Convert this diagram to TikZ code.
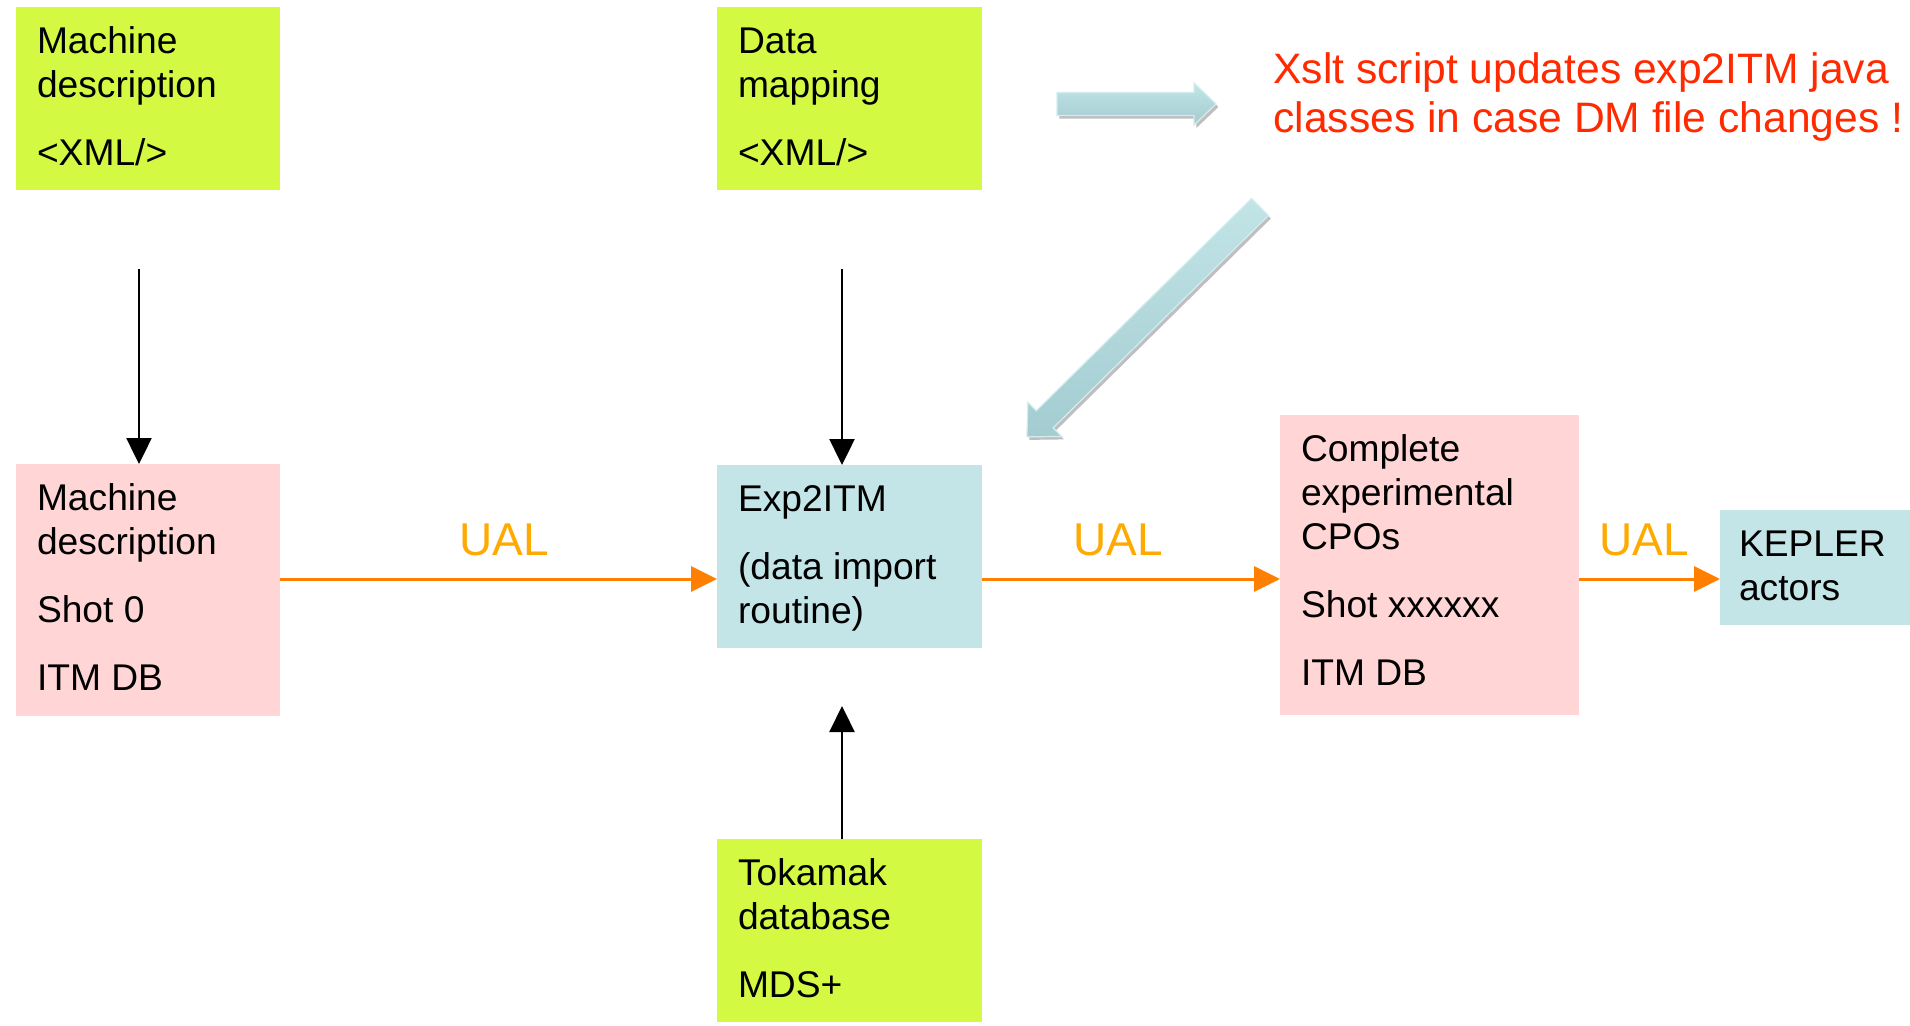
\documentclass[tikz,border=0pt]{standalone}
\usepackage{fontspec}
\setmainfont{Liberation Sans}
\usetikzlibrary{arrows.meta,shadows}

\definecolor{limebox}{HTML}{D4F943}
\definecolor{pinkbox}{HTML}{FFD6D5}
\definecolor{bluebox}{HTML}{C4E5E8}
\definecolor{flowline}{HTML}{FF8000}
\definecolor{uallabel}{HTML}{FFAA00}
\definecolor{notered}{HTML}{FF2A00}
\definecolor{hintlight}{HTML}{C2E4E7}
\definecolor{hintdark}{HTML}{A3CCD1}
\definecolor{hintedge}{HTML}{D3ECEE}

% text block of a panel: fixed height, top aligned, first baseline 23pt below the top
\newcommand\panellines[3]{%
  \parbox[c][#1][t]{#2}{\raggedright\fontsize{18.6}{22}\selectfont
    \vspace*{9.5pt}\rule{0pt}{13.5pt}#3}}

% light-blue block arrow: tail x, tail y, angle, length, shaft half width, head half width, head length
\newcommand\hintarrow[7]{%
  \begin{scope}[shift={(#1,#2)}, rotate=#3]
    \path[hintshape] (0,#5) -- ({#4-#7},#5) -- ({#4-#7},#6) -- (#4,0)
      -- ({#4-#7},-#6) -- ({#4-#7},-#5) -- (0,-#5) -- cycle;
  \end{scope}}

\tikzset{
  panel/.style={anchor=north west, inner xsep=10.5pt, inner ysep=0pt, outer sep=0pt},
  limepanel/.style={panel, fill=limebox},
  pinkpanel/.style={panel, fill=pinkbox},
  bluepanel/.style={panel, fill=bluebox},
  feed/.style={line width=1.2pt, -{Triangle[width=12.5pt,length=13pt]}},
  flow/.style={draw=flowline, line width=1.5pt, -{Triangle[width=12.5pt,length=13pt]}},
  ual/.style={text=uallabel, font=\fontsize{23}{27}\selectfont, inner sep=0pt, anchor=base, yshift=12pt},
  note/.style={text=notered, font=\fontsize{21.3}{24.5}\selectfont, align=left, inner sep=0pt, anchor=base west},
  hintshape/.style={top color=hintlight, bottom color=hintdark, draw=hintedge, line width=0.6pt,
    drop shadow={shadow xshift=1.2pt, shadow yshift=-1.5pt, opacity=0.25, fill=black}}
}

\begin{document}
\begin{tikzpicture}[x=1pt,y=1pt]
  \useasboundingbox (0,0) rectangle (955,-512.5);

  % source descriptions
  \node[limepanel] (mdx) at (8,-3.5)
    {\panellines{91.5pt}{111pt}{Machine\\description\\[12pt]<XML/>}};
  \node[limepanel] (dm) at (358.5,-3.5)
    {\panellines{91.5pt}{111.5pt}{Data\\mapping\\[12pt]<XML/>}};

  % main chain
  \node[pinkpanel] (md0) at (8,-232)
    {\panellines{126pt}{111pt}{Machine\\description\\[12pt]Shot 0\\[12pt]ITM DB}};
  \node[bluepanel] (exp) at (358.5,-232.5)
    {\panellines{91.5pt}{111.5pt}{Exp2ITM\\[12pt](data import\\routine)}};
  \node[pinkpanel] (cpo) at (640,-207.5)
    {\panellines{150pt}{128.5pt}{Complete\\experimental\\CPOs\\[12pt]Shot xxxxxx\\[12pt]ITM DB}};
  \node[bluepanel, inner xsep=9.5pt] (kep) at (860,-255)
    {\panellines{57.5pt}{76pt}{KEPLER\\actors}};

  % experimental data source
  \node[limepanel] (tok) at (358.5,-419.5)
    {\panellines{91.5pt}{111.5pt}{Tokamak\\database\\[12pt]MDS+}};

  % vertical feeds
  \coordinate (fa) at (69.5,-134.5);
  \coordinate (fb) at (421,-134.5);
  \coordinate (fc) at (421,-353);
  \draw[feed] (fa) -- (fa |- md0.north);
  \draw[feed] (fb) -- (fb |- exp.north);
  \draw[feed] (fc |- tok.north) -- (fc);

  % UAL flow
  \coordinate (lane) at (0,-289.5);
  \draw[flow] (md0.east |- lane) -- node[ual, pos=0.513] (u1) {UAL} (exp.west |- lane);
  \draw[flow] (exp.east |- lane) -- node[ual, pos=0.456] (u2) {UAL} (cpo.west |- lane);
  \draw[flow] (cpo.east |- lane) -- node[ual, pos=0.46] (u3) {UAL} (kep.west |- lane);

  % note on the xslt update (anchored at the baseline of its second line)
  \node[note] (xslt) at (636.5,-66)
    {Xslt script updates exp2ITM java\\classes in case DM file changes !};

  % block arrows pointing to the note and back to the import routine
  \hintarrow{528.5}{-52}{0}{79.5}{5.75}{10.5}{11}
  \hintarrow{630}{-103.5}{224.6}{163.7}{6}{12}{12.5}
\end{tikzpicture}
\end{document}
